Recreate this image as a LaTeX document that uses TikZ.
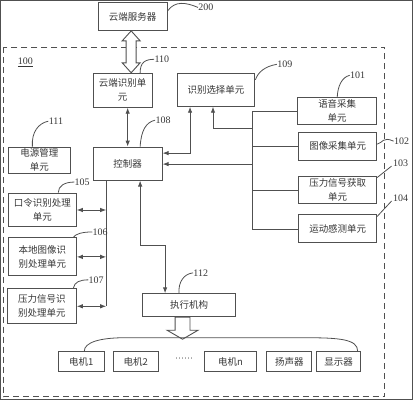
\documentclass[tikz,border=0pt]{standalone}
\usepackage{fontspec}
\setmainfont{Liberation Serif}
\newfontfamily\cjk{Noto Sans CJK SC}
\usetikzlibrary{arrows.meta,calc}
\definecolor{linec}{RGB}{80,80,80}
\definecolor{textc}{RGB}{55,55,55}
\begin{document}
\begin{tikzpicture}[x=1pt,y=-1pt,
  every path/.style={draw=linec,line width=0.9pt},
  box/.style={draw=linec,line width=1pt,fill=white,inner sep=1pt,align=center,
    font=\cjk\fontsize{9.5}{14}\selectfont,text=textc},
  lab/.style={anchor=west,inner sep=0pt,font=\fontsize{10}{12}\selectfont,text=textc},
  lead/.style={draw=linec,line width=0.8pt},
  arr/.style={-{Latex[length=6pt,width=4.5pt]}},
  darr/.style={{Latex[length=6pt,width=4.5pt]}-{Latex[length=6pt,width=4.5pt]}},
  hollow/.style={draw=linec,line width=0.9pt,fill=white,line join=miter}]
\useasboundingbox (0,0) rectangle (413,400);
% outer dashed frame
\draw[dash pattern=on 6pt off 4pt,line width=1pt] (3,47) rectangle (385,397);
\node[lab] (l100) at (17,62) {\underline{100}};
% boxes
\node[box,minimum width=69,minimum height=28] (srv) at (132.5,16) {云端服务器};
\node[box,minimum width=59,minimum height=34] (cid) at (122.5,90) {云端识别单\\元};
\node[box,minimum width=78,minimum height=33] (sel) at (216,89.5) {识别选择单元};
\node[box,minimum width=79,minimum height=27] (voice) at (337.5,111) {语音采集\\单元};
\node[box,minimum width=78,minimum height=28] (img) at (338,146) {图像采集单元};
\node[box,minimum width=78,minimum height=27] (pres) at (338,190) {压力信号获取\\单元};
\node[box,minimum width=78,minimum height=28] (mot) at (338,229) {运动感测单元};
\node[box,minimum width=69,minimum height=33] (ctl) at (127.5,163.5) {控制器};
\node[box,minimum width=62,minimum height=26] (pwr) at (39,160) {电源管理\\单元};
\node[box,minimum width=68,minimum height=34] (cmd) at (42,210) {口令识别处理\\单元};
\node[box,minimum width=68,minimum height=38] (loc) at (42,257) {本地图像识\\别处理单元};
\node[box,minimum width=69,minimum height=35] (prs) at (41.5,306.5) {压力信号识\\别处理单元};
\node[box,minimum width=94,minimum height=23] (exe) at (189,305.5) {执行机构};
\node[box,minimum width=46,minimum height=20] (m1) at (81,362) {电机1};
\node[box,minimum width=45,minimum height=20] (m2) at (135.5,362) {电机2};
\node[inner sep=0pt,text=textc,font=\fontsize{9}{10}\selectfont] (dots) at (184,360) {\textperiodcentered\textperiodcentered\textperiodcentered\textperiodcentered\textperiodcentered\textperiodcentered};
\node[box,minimum width=53,minimum height=20] (mn) at (230.5,362) {电机n};
\node[box,minimum width=45,minimum height=20] (spk) at (289.5,362) {扬声器};
\node[box,minimum width=44,minimum height=20] (disp) at (339,362) {显示器};
% hollow double arrow server <-> cloud id
\coordinate (ha) at (srv.south -| 131,0);
\coordinate (hb) at (cid.north -| 131,0);
\draw[hollow] (ha) -- ++(9,10) -- ++(-4,0) -- ($(hb)+(5,-10)$) -- ++(4,0) -- (hb)
  -- ++(-9,-10) -- ++(4,0) -- ($(ha)+(-5,10)$) -- ++(-4,0) -- cycle;
% cloud id <-> controller
\draw[darr] (cid.south -| ctl.north) -- (ctl.north);
% selection <-> controller
\draw[darr] ([xshift=-26]sel.south) |- ([yshift=10.5]ctl.east);
% right bus
\coordinate (busx) at (253,0);
\draw (voice.west) -- (voice.west -| busx) -- (mot.west -| busx) -- (mot.west);
\draw (img.west) -- (img.west -| busx);
\draw (pres.west) -- (pres.west -| busx);
\coordinate (j1) at (253,128);
\coordinate (j2) at (253,164);
\draw[arr] (j1) -| ([xshift=-3]sel.south);
\draw[arr] (j2) -- (j2 -| ctl.east);
% left bus
\coordinate (lb) at (106,306.5);
\draw (ctl.south -| lb) -- (lb);
\draw[darr] (cmd.east) -- (cmd.east -| lb);
\draw[darr] (loc.east) -- (loc.east -| lb);
\draw[darr] (prs.east) -- (prs.east -| lb);
% controller <-> execution
\draw[darr] ([xshift=12.5]ctl.south) -- ++(0,65) -| ([xshift=-24]exe.north);
% hollow down arrow
\coordinate (ea) at ([xshift=-6.5]exe.south);
\draw[hollow] ($(ea)+(-7.5,0)$) -- ($(ea)+(7.5,0)$) -- ++(0,13) -- ++(8,0) -- ($(ea)+(0,22)$)
  -- ($(ea)+(-15.5,13)$) -- ++(8,0) -- cycle;
% brace curve over outputs
\draw[lead] ([xshift=3]m1.north) .. controls ++(0,-9) and (100,338) .. (125,338) -- (305,338)
  .. controls (340,338) and ([xshift=19,yshift=12]disp.north) .. ([xshift=19]disp.north);
% leaders and labels
\node[lab] (l200) at (198,7) {200};
\draw[lead] ([yshift=-9]srv.north east) .. controls (175,0) and (186,2) .. (l200.west);
\node[lab] (l110) at (154,59) {110};
\draw[lead] ([xshift=17.5]cid.north) .. controls (140,62) and (145,59) .. (l110.west);
\node[lab] (l109) at (277,64) {109};
\draw[lead] ([yshift=-7]sel.north east) .. controls (258,72) and (265,66) .. (l109.west);
\node[lab] (l101) at (350,75) {101};
\draw[lead] (voice.north) .. controls (338,86) and (342,77) .. (l101.west);
\node[lab] (l102) at (394,141) {102};
\draw[lead] ([yshift=2]img.east) .. controls (383,143) and (383,136) .. (l102.west);
\node[lab] (l103) at (393,163) {103};
\draw[lead] ([yshift=-1.5]pres.north east) -- ($(l103.west)+(-1,3)$);
\node[lab] (l104) at (393,198) {104};
\draw[lead] ([yshift=-2]mot.north east) -- ($(l104.west)+(-1,3)$);
\node[lab] (l108) at (155,120) {108};
\draw[lead] ([xshift=12.5]ctl.north) .. controls (141,130) and (146,122) .. (l108.west);
\node[lab] (l111) at (48,121) {111};
\draw[lead] ([xshift=-7]pwr.north) .. controls (31,132) and (38,123) .. (l111.west);
\node[lab] (l105) at (74,182) {105};
\draw[lead] ([xshift=16]cmd.north) .. controls (58,186) and (64,182) .. (l105.west);
\node[lab] (l106) at (92,232) {106};
\draw[lead] ([xshift=31]loc.north) .. controls (75,234) and (82,232) .. (l106.west);
\node[lab] (l107) at (88,280) {107};
\draw[lead] ([xshift=31.5]prs.north) .. controls (74,282) and (80,280) .. (l107.west);
\node[lab] (l112) at (193,273) {112};
\draw[lead] ([xshift=-10]exe.north) .. controls (178,282) and (184,274) .. (l112.west);
\end{tikzpicture}
\end{document}
